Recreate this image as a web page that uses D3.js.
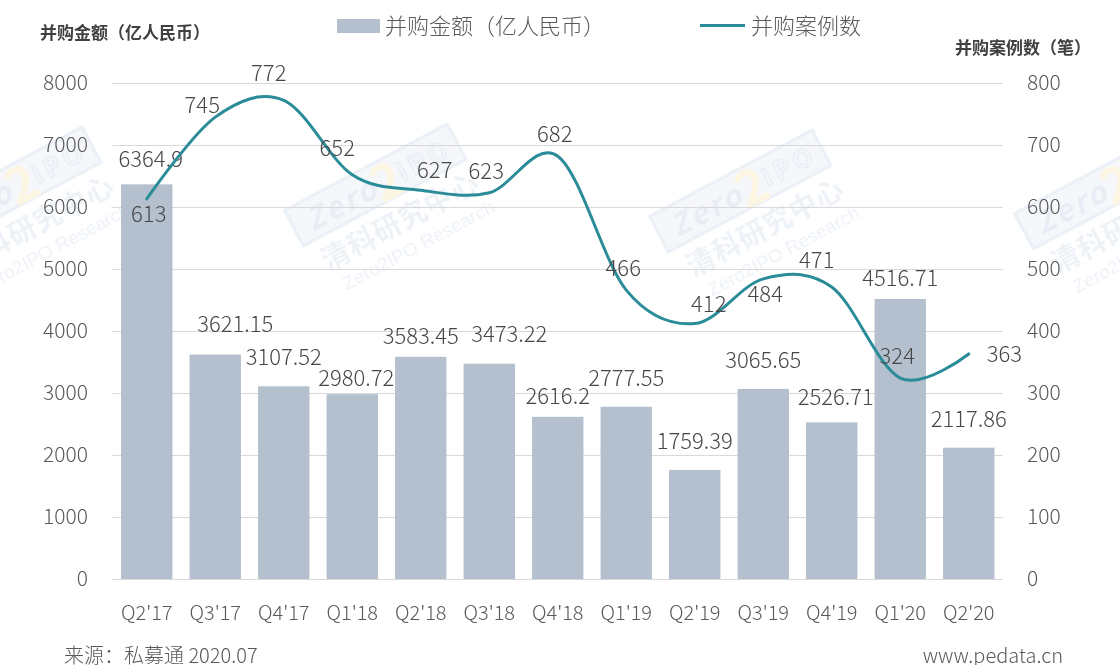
<!DOCTYPE html>
<meta charset="utf-8">
<style>
  body { margin: 0; background: #fff; }
  svg { font-family: "Noto Sans CJK SC", "Noto Sans", sans-serif; }
  .grid line { stroke: #d9d9d9; stroke-width: 1; }
  .tick-l, .tick-r { fill: #595959; font-size: 21px; font-weight: 300; }
  .tick-x { fill: #595959; font-size: 20px; font-weight: 300; }
  .lbl { fill: #474747; font-size: 22px; font-weight: 300; }
  .title { fill: #404040; font-size: 17px; font-weight: bold; }
  .wm { fill: #d3deec; }
</style>
<body>
</body>
<script src="https://cdn.jsdelivr.net/npm/d3@7"></script>
<script>
  const quarters = ["Q2'17", "Q3'17", "Q4'17", "Q1'18", "Q2'18", "Q3'18", "Q4'18",
                    "Q1'19", "Q2'19", "Q3'19", "Q4'19", "Q1'20", "Q2'20"];
  const amounts = [6364.9, 3621.15, 3107.52, 2980.72, 3583.45, 3473.22, 2616.2,
                   2777.55, 1759.39, 3065.65, 2526.71, 4516.71, 2117.86];
  const deals = [613, 745, 772, 652, 627, 623, 682, 466, 412, 484, 471, 324, 363];
  const leftTicks = [0, 1000, 2000, 3000, 4000, 5000, 6000, 7000, 8000];
  const rightTicks = [0, 100, 200, 300, 400, 500, 600, 700, 800];
  // label placement keywords (as set per label in the source chart)
  const amountLabelPos = ['top', 'highRight', 'high', 'low', 'mid', 'highRight', 'mid',
                          'high', 'high', 'high', 'top', 'mid', 'high'];
  const dealLabelPos = ['below', 'left', 'aboveLeft', 'aboveLeft', 'aboveRight', 'above', 'above',
                        'above', 'aboveRight', 'below', 'aboveLeft', 'above', 'right'];

  const W = 1120, H = 665;
  const l = 112.5, r = 1003, t = 83, b = 579;
  const barColor = '#b4c0ce', lineColor = '#2a8c98';

  const svg = d3.select('body').append('svg')
    .attr('width', W)
    .attr('height', H);

  const x = d3.scaleBand().domain(quarters).range([l, r]).paddingInner(0.25).paddingOuter(0.125);
  const yL = d3.scaleLinear().domain([0, 8000]).range([b, t]);
  const yR = d3.scaleLinear().domain([0, 800]).range([b, t]);

  // watermark (faint, behind everything)
  const wm = svg.append('g').attr('opacity', 0.4);
  [[30, 225], [395, 222], [760, 228], [1125, 225]].forEach(([cx, cy]) => {
    const g = wm.append('g').attr('transform', `translate(${cx},${cy}) rotate(-28)`);
    g.append('rect').attr('x', -92).attr('y', -62).attr('width', 184).attr('height', 40)
      .attr('fill', '#e6ecf5').attr('stroke', '#ccd8ea').attr('stroke-width', 3);
    g.append('text').attr('x', -38).attr('y', -30).attr('text-anchor', 'middle')
      .attr('font-size', 30).attr('font-weight', 'bold').attr('font-style', 'italic')
      .attr('fill', '#c6d3e6').attr('letter-spacing', 3).text('Zero');
    g.append('text').attr('x', 12).attr('y', -22).attr('text-anchor', 'middle')
      .attr('font-size', 50).attr('font-weight', 'bold').attr('fill', '#f7e6b4').text('2');
    g.append('text').attr('x', 55).attr('y', -32).attr('text-anchor', 'middle')
      .attr('font-size', 26).attr('font-weight', 'bold').attr('fill', 'none')
      .attr('stroke', '#c6d3e6').attr('stroke-width', 1.5).attr('letter-spacing', 4).text('IPO');
    g.append('text').attr('class', 'wm').attr('x', 5).attr('y', 12).attr('text-anchor', 'middle')
      .attr('font-size', 28).attr('font-weight', 'bold').attr('letter-spacing', 1).text('清科研究中心');
    g.append('text').attr('class', 'wm').attr('x', 10).attr('y', 38).attr('text-anchor', 'middle')
      .attr('font-size', 19).attr('font-family', 'Liberation Sans, sans-serif').text('Zero2IPO Research');
  });

  // gridlines
  svg.append('g').attr('class', 'grid')
    .selectAll('line')
    .data(leftTicks)
    .join('line')
    .attr('x1', l).attr('x2', r)
    .attr('y1', d => yL(d) + 0.5).attr('y2', d => yL(d) + 0.5);

  // left axis labels
  svg.append('g').selectAll('text')
    .data(leftTicks)
    .join('text')
    .attr('class', 'tick-l')
    .attr('x', 88).attr('y', d => yL(d))
    .attr('dy', '0.35em')
    .attr('text-anchor', 'end')
    .text(d => d);

  // right axis labels
  svg.append('g').selectAll('text')
    .data(rightTicks)
    .join('text')
    .attr('class', 'tick-r')
    .attr('x', 1027).attr('y', d => yR(d))
    .attr('dy', '0.35em')
    .text(d => d);

  // x labels
  svg.append('g').selectAll('text')
    .data(quarters)
    .join('text')
    .attr('class', 'tick-x')
    .attr('x', d => x(d) + x.bandwidth() / 2)
    .attr('y', 620)
    .attr('text-anchor', 'middle')
    .text(d => d);

  // bars
  svg.append('g').selectAll('rect')
    .data(amounts)
    .join('rect')
    .attr('x', (d, i) => x(quarters[i]))
    .attr('y', d => yL(d))
    .attr('width', x.bandwidth())
    .attr('height', d => b - yL(d))
    .attr('fill', barColor);

  // bar labels
  const barOff = {
    top:       {dx: 4,  dy: -17},
    high:      {dx: 0,  dy: -21},
    highRight: {dx: 20, dy: -22},
    mid:       {dx: 0,  dy: -13},
    low:       {dx: 4,  dy: -8}
  };
  svg.append('g').selectAll('text')
    .data(amounts)
    .join('text')
    .attr('class', 'lbl')
    .attr('x', (d, i) => x(quarters[i]) + x.bandwidth() / 2 + barOff[amountLabelPos[i]].dx)
    .attr('y', (d, i) => yL(d) + barOff[amountLabelPos[i]].dy)
    .attr('text-anchor', 'middle')
    .text(d => d);

  // deal-count line
  const pts = deals.map((d, i) => [x(quarters[i]) + x.bandwidth() / 2, yR(d)]);
  svg.append('path')
    .attr('d', d3.line().curve(d3.curveCardinal.tension(0))(pts))
    .attr('fill', 'none')
    .attr('stroke', lineColor)
    .attr('stroke-width', 3)
    .attr('stroke-linecap', 'round');

  const off = {
    above:      {dx: -3,  dy: -14, a: 'middle'},
    aboveLeft:  {dx: -15, dy: -19, a: 'middle'},
    aboveRight: {dx: 14,  dy: -12, a: 'middle'},
    left:       {dx: -13, dy: -4,  a: 'middle'},
    below:      {dx: 2,   dy: 23,  a: 'middle'},
    right:      {dx: 18,  dy: 8,   a: 'start'}
  };
  svg.append('g').selectAll('text')
    .data(deals)
    .join('text')
    .attr('class', 'lbl')
    .attr('x', (d, i) => pts[i][0] + off[dealLabelPos[i]].dx)
    .attr('y', (d, i) => pts[i][1] + off[dealLabelPos[i]].dy)
    .attr('text-anchor', (d, i) => off[dealLabelPos[i]].a)
    .text(d => d);

  // axis titles
  svg.append('text').attr('class', 'title').attr('x', 40).attr('y', 39).text('并购金额（亿人民币）');
  svg.append('text').attr('class', 'title').attr('x', 955).attr('y', 54).text('并购案例数（笔）');

  // legend
  const lg = svg.append('g');
  lg.append('rect').attr('x', 337).attr('y', 19).attr('width', 43).attr('height', 14).attr('fill', barColor);
  lg.append('text').attr('x', 385).attr('y', 34).attr('font-size', 22).attr('font-weight', 300)
    .attr('fill', '#595959').text('并购金额（亿人民币）');
  lg.append('line').attr('x1', 700).attr('x2', 745).attr('y1', 25.5).attr('y2', 25.5)
    .attr('stroke', lineColor).attr('stroke-width', 3);
  lg.append('text').attr('x', 751).attr('y', 34).attr('font-size', 22).attr('font-weight', 300)
    .attr('fill', '#595959').text('并购案例数');

  // footer
  svg.append('text').attr('x', 64).attr('y', 663).attr('font-size', 20).attr('font-weight', 300)
    .attr('fill', '#595959').text('来源：私募通 2020.07');
  svg.append('text').attr('x', 1063).attr('y', 663).attr('text-anchor', 'end').attr('font-size', 20)
    .attr('font-weight', 300).attr('fill', '#595959').text('www.pedata.cn');
</script>
